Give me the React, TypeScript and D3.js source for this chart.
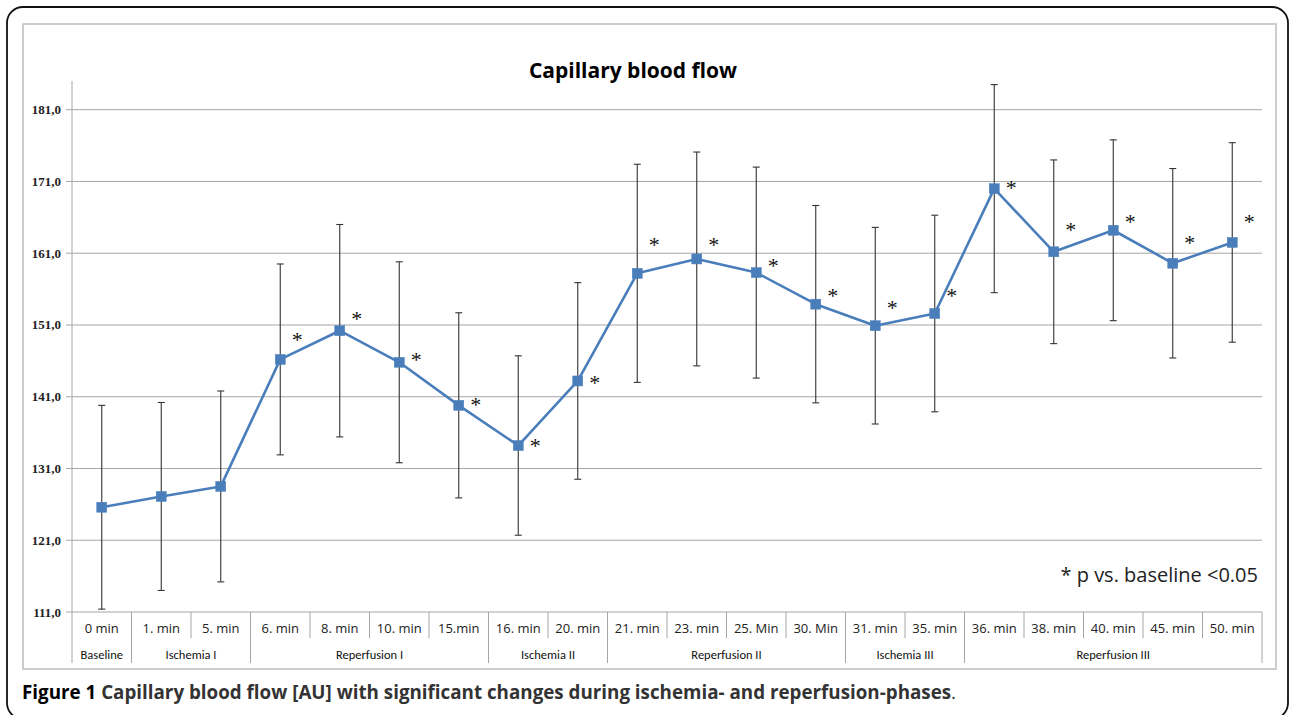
import React from "react";
import * as d3 from "d3";

const categories = ["0 min", "1. min", "5. min", "6. min", "8. min", "10. min", "15.min", "16. min", "20. min", "21. min", "23. min", "25. Min", "30. Min", "31. min", "35. min", "36. min", "38. min", "40. min", "45. min", "50. min"];
const meanValues = [125.6, 127.1, 128.5, 146.2, 150.2, 145.8, 139.8, 134.2, 143.2, 158.2, 160.2, 158.3, 153.9, 150.9, 152.6, 170.0, 161.2, 164.2, 159.6, 162.5];
const sdValues = [14.2, 13.1, 13.3, 13.3, 14.8, 14.0, 12.9, 12.5, 13.7, 15.2, 14.9, 14.7, 13.75, 13.7, 13.7, 14.5, 12.8, 12.6, 13.2, 13.9];
const significant = [false, false, false, true, true, true, true, true, true, true, true, true, true, true, true, true, true, true, true, true];
const starLevels = [0, 0, 0, 149.3, 152.2, 146.5, 140.3, 134.5, 143.3, 162.5, 162.5, 159.6, 155.4, 153.8, 155.4, 170.5, 164.7, 165.7, 162.9, 165.7];
const groupNames = ["Baseline", "Ischemia I", "Reperfusion I", "Ischemia II", "Reperfusion II", "Ischemia III", "Reperfusion III"];
const groupSizes = [1, 2, 4, 2, 4, 2, 5];
const yTicks = [111, 121, 131, 141, 151, 161, 171, 181];
const yDomain = [111, 185];

const W = 1289;
const H = 715;
const plot = { left: 72, right: 1262, top: 81, bottom: 612 };
const blue = "#4A7EBB";
const sans = "'Open Sans', 'Noto Sans', sans-serif";
const narrow = "Carlito, Calibri, 'Open Sans', sans-serif";

export default function App() {
  const x = d3.scaleBand<string>().domain(categories).range([plot.left, plot.right]).padding(0);
  const y = d3.scaleLinear().domain(yDomain).range([plot.bottom, plot.top]);
  const cx = (i: number) => (x(categories[i]) as number) + x.bandwidth() / 2;
  const line = d3.line<number>().x((_, i) => cx(i)).y((d) => y(d));
  const fmt = (v: number) => d3.format(".1f")(v).replace(".", ",");

  const groupStarts: number[] = [];
  let acc = 0;
  groupSizes.forEach((s) => { groupStarts.push(acc); acc += s; });
  const bw = x.bandwidth();

  return (
    <svg width={W} height={H} style={{ position: "fixed", left: 0, top: 0, background: "#fff" }}>
      <rect x={0} y={0} width={W} height={H} fill="#fff" />
      <rect x={7} y={7} width={1281} height={712} rx={16} ry={16} fill="none" stroke="#111" strokeWidth={1.8} />
      <rect x={23} y={24} width={1253} height={645} fill="#fff" stroke="#bdbdbd" strokeWidth={1.5} />
      <text x={633} y={78} textAnchor="middle" fontFamily={sans} fontWeight="bold" fontSize={21} fill="#000">Capillary blood flow</text>
      {yTicks.map((t) => (
        <g key={t}>
          <line x1={plot.left} x2={plot.right} y1={y(t)} y2={y(t)} stroke="#a6a6a6" strokeWidth={1} />
          <line x1={plot.left - 6} x2={plot.left} y1={y(t)} y2={y(t)} stroke="#a6a6a6" strokeWidth={1} />
          <text x={61} y={y(t) + 4.5} textAnchor="end" fontFamily="'Liberation Serif', serif" fontWeight="bold" fontSize={13} fill="#222">{fmt(t)}</text>
        </g>
      ))}
      <line x1={plot.left} x2={plot.left} y1={plot.top} y2={663} stroke="#a6a6a6" strokeWidth={1} />
      {categories.map((c, i) => {
        if (i === 0) return null;
        const isGroup = groupStarts.includes(i);
        const xx = x(c) as number;
        return <line key={c} x1={xx} x2={xx} y1={plot.bottom} y2={isGroup ? 663 : 638} stroke="#a6a6a6" strokeWidth={1} />;
      })}
      <line x1={plot.right} x2={plot.right} y1={plot.bottom} y2={663} stroke="#a6a6a6" strokeWidth={1} />
      {categories.map((c, i) => (
        <text key={c} x={cx(i)} y={633} textAnchor="middle" fontFamily={sans} fontSize={13} fill="#222">{c}</text>
      ))}
      {groupNames.map((g, gi) => {
        const start = groupStarts[gi];
        const mid = (x(categories[start]) as number) + (groupSizes[gi] * bw) / 2;
        return <text key={g} x={mid} y={659} textAnchor="middle" fontFamily={narrow} fontSize={12.5} fill="#111">{g}</text>;
      })}
      {meanValues.map((m, i) => {
        const top = y(m + sdValues[i]);
        const bot = y(m - sdValues[i]);
        return (
          <g key={"e" + i} stroke="#333" strokeWidth={1.1}>
            <line x1={cx(i)} x2={cx(i)} y1={top} y2={bot} />
            <line x1={cx(i) - 3.5} x2={cx(i) + 3.5} y1={top} y2={top} />
            <line x1={cx(i) - 3.5} x2={cx(i) + 3.5} y1={bot} y2={bot} />
          </g>
        );
      })}
      <path d={line(meanValues) as string} fill="none" stroke={blue} strokeWidth={2.6} strokeLinejoin="round" />
      {meanValues.map((m, i) => (
        <rect key={"m" + i} x={cx(i) - 5} y={y(m) - 5} width={10} height={10} fill={blue} stroke="#4F81BD" strokeWidth={0.5} />
      ))}
      {meanValues.map((m, i) => significant[i] ? (
        <text key={"s" + i} x={cx(i) + 17} y={y(starLevels[i]) + 10} textAnchor="middle" fontFamily="'Liberation Serif', serif" fontSize={22} fill="#111">*</text>
      ) : null)}
      <text x={1258} y={582} textAnchor="end" fontFamily={sans} fontSize={20} fill="#222">* p vs. baseline &lt;0.05</text>
      <text x={22} y={699} fontFamily={sans} fontSize={18.8} fill="#333" fontWeight="bold">
        <tspan fill="#000">Figure 1</tspan>
        <tspan> Capillary blood flow [AU] with significant changes during ischemia- and reperfusion-phases</tspan>
        <tspan fontWeight="normal">.</tspan>
      </text>
    </svg>
  );
}
